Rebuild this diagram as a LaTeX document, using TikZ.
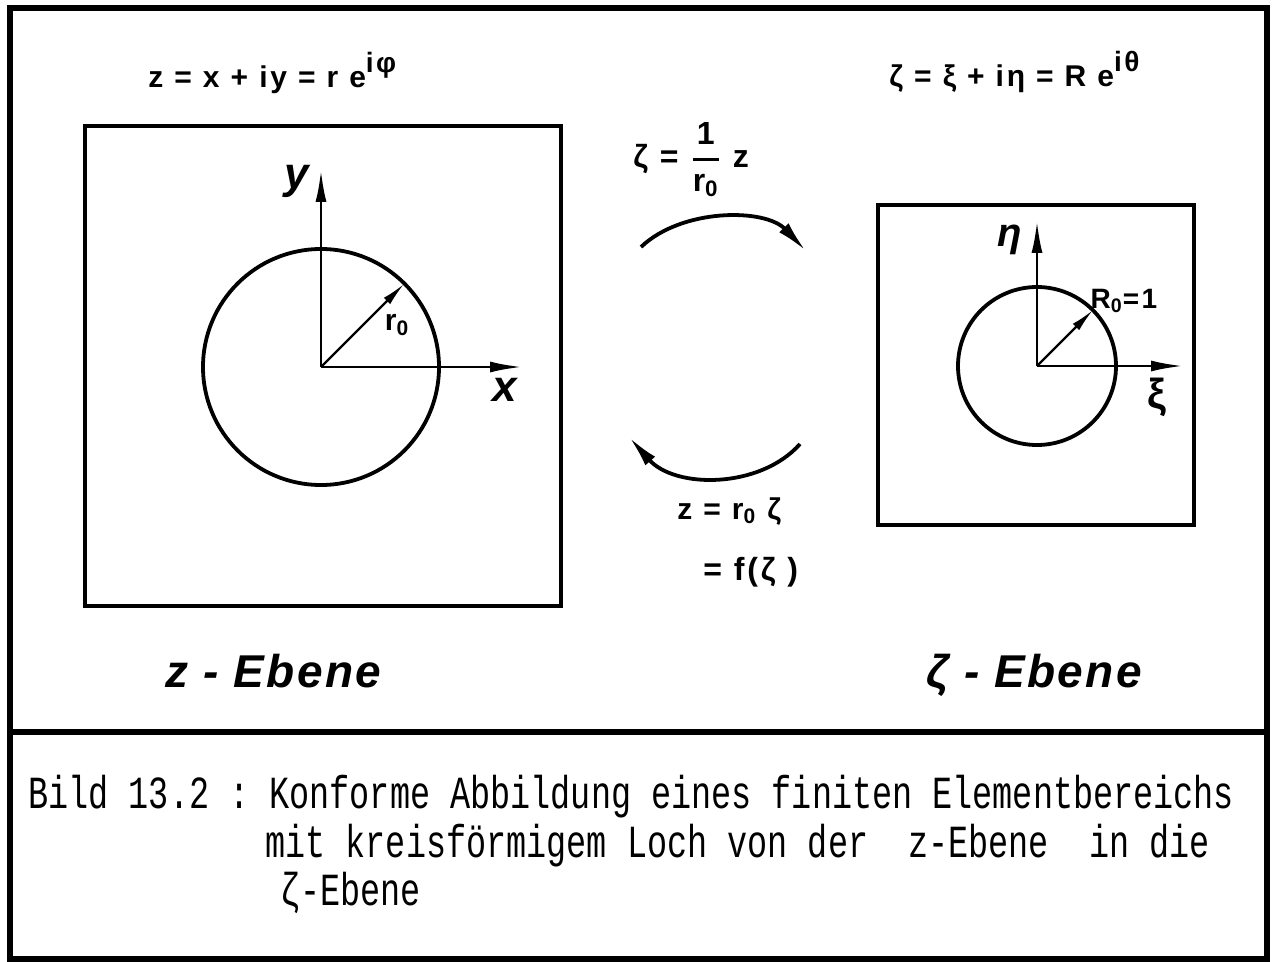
\documentclass[tikz,border=0pt]{standalone}
\usepackage{amsmath}
\usepackage{fontspec}
\setmainfont{Liberation Sans}
\newfontfamily\wide[LetterSpace=9]{Liberation Sans}
\newfontfamily\ebfont[LetterSpace=5]{Liberation Sans}
\newfontfamily\capfont[FakeStretch=0.728]{Liberation Mono}
\usetikzlibrary{arrows.meta}
\newcommand{\sbs}[1]{\textsubscript{#1}}
\newcommand{\hochi}[1]{\raisebox{1.0ex}{\fontsize{14}{14}\selectfont #1}}
\frenchspacing

\begin{document}
\begin{tikzpicture}[x=0.5pt,y=-0.5pt,
		outerframe/.style={line width=2.6pt},
		plane/.style={line width=1.9pt},
		ring/.style={line width=1.9pt},
		axis/.style={line width=1.3pt,-{Latex[length=16pt,width=5.5pt]}},
		rarrow/.style={line width=1.1pt,-{Latex[length=12pt,width=4.5pt]}},
		maparrow/.style={line width=1.9pt,-{Latex[length=16pt,width=6.5pt]}},
		formula/.style={font=\wide\bfseries\fontsize{15}{17}\selectfont,inner sep=0pt,anchor=base west},
		axlabel/.style={font=\bfseries\itshape\fontsize{22}{24}\selectfont,inner sep=0pt},
		ebene/.style={font=\ebfont\bfseries\itshape\fontsize{23}{25}\selectfont,inner sep=0pt,anchor=base west},
		captext/.style={font=\capfont\fontsize{23}{25}\selectfont,inner sep=0pt,anchor=base west}]
		\useasboundingbox (0,0) rectangle (1273,962);
		\draw[outerframe] (10,8) rectangle (1267,959);
		\draw[outerframe] (10,732) -- (1267,732);
		
		% z-Ebene
		\draw[plane] (85,126) rectangle (561,606);
		\coordinate (zO) at (321,367);
		\coordinate (zY) at (321,170);
		\coordinate (zX) at (522,367);
		\coordinate (zR) at (404,284);
		\draw[ring] (zO) circle[radius=118];
		\draw[axis] (zO) -- (zY);
		\draw[axis] (zO) -- (zX);
		\draw[rarrow] (zO) -- (zR);
		\node[axlabel] (ylab) at (297,181) {y};
		\node[axlabel] (xlab) at (505,390) {x};
		\node[font=\bfseries\fontsize{15}{17}\selectfont,inner sep=0pt] (rlab) at (397,325) {r\sbs{0}};
		\node[formula] (zdef) at (148,88) {z = x + iy = r e\hochi{iφ}};
		
		% zeta-Ebene
		\draw[plane] (878,205) rectangle (1194,525);
		\coordinate (wO) at (1037,366);
		\coordinate (wY) at (1037,221);
		\coordinate (wX) at (1183,366);
		\coordinate (wR) at (1093,310);
		\draw[ring] (wO) circle[radius=79];
		\draw[axis] (wO) -- (wY);
		\draw[axis] (wO) -- (wX);
		\draw[rarrow] (wO) -- (wR);
		\node[axlabel,font=\bfseries\itshape\fontsize{20}{22}\selectfont] (etalab) at (1010,240) {η};
		\node[font=\bfseries\fontsize{21}{23}\selectfont,inner sep=0pt] (xilab) at (1157,397) {ξ};
		\node[font=\wide\bfseries\fontsize{14}{16}\selectfont,inner sep=0pt] (Rlab) at (1124,301) {R\sbs{0}=1};
		\node[formula] (zetadef) at (889,87) {ζ = ξ + iη = R e\hochi{iθ}};
		
		% Abbildungen
		\coordinate (hinA) at (641,247);
		\coordinate (hinB) at (806,251);
		\coordinate (rueckA) at (800,444);
		\coordinate (rueckB) at (629,437);
		\draw[maparrow] (hinA) .. controls (682,208) and (765,208) .. (hinB);
		\draw[maparrow] (rueckA) .. controls (760,489) and (675,489) .. (rueckB);
		\node[formula,font=\wide\bfseries\fontsize{16}{18}\selectfont] (hin) at (633,168) {ζ = $\genfrac{}{}{1.5pt}{0}{\mbox{1}}{\mbox{r\sbs{0}}}$ z};
		\node[formula] (rueck) at (677,519) {z = r\sbs{0} ζ};
		\node[formula,font=\wide\bfseries\fontsize{16}{18}\selectfont] (rueckf) at (703,580) {= f(ζ )};
		
		\node[ebene] (zeb) at (165,687) {z - Ebene};
		\node[ebene] (web) at (926,687) {ζ - Ebene};
		
		% Bildunterschrift
		\node[captext] (cap1) at (28,808) {Bild 13.2 : Konforme Abbildung eines finiten Elementbereichs};
		\node[captext] (cap2) at (265,857) {mit kreisförmigem Loch von der\ \ z-Ebene\ \ in die};
		\node[captext] (cap3) at (280,905) {ζ-Ebene};
	\end{tikzpicture}
\end{document}
